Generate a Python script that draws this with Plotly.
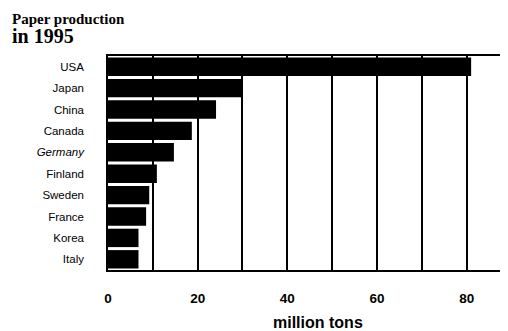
import plotly.graph_objects as go

countries = ["USA", "Japan", "China", "Canada", "<i>Germany</i>", "Finland", "Sweden", "France", "Korea", "Italy"]
production = [81, 30, 24.1, 18.7, 14.7, 10.9, 9.2, 8.5, 6.8, 6.8]
tick_vals = [0, 10, 20, 30, 40, 50, 60, 70, 80]
tick_text = ["0", "", "20", "", "40", "", "60", "", "80"]

fig = go.Figure(go.Bar(
    x=production, y=countries, orientation="h",
    marker=dict(color="black", line=dict(width=0)),
    width=0.86,
))

# page body has an 8px margin, so the figure is sized to fit the 508x331 window
fig.update_layout(
    width=500, height=323,
    margin=dict(l=100, r=1, t=48, b=61),
    paper_bgcolor="white", plot_bgcolor="white",
    showlegend=False,
    font=dict(family="Liberation Sans", color="black"),
    annotations=[
        dict(text="<b>Paper production</b>", xref="paper", yref="paper",
             x=-0.2456, y=1.171, xanchor="left", yanchor="middle", align="left",
             showarrow=False,
             font=dict(family="Liberation Serif", size=15, color="black")),
        dict(text="<b>in 1995</b>", xref="paper", yref="paper",
             x=-0.2456, y=1.093, xanchor="left", yanchor="middle", align="left",
             showarrow=False,
             font=dict(family="Liberation Serif", size=20, color="black")),
        dict(text="<b>million tons</b>", xref="paper", yref="paper",
             x=0.526, y=-0.243, xanchor="center", yanchor="middle", showarrow=False,
             font=dict(family="Liberation Sans", size=16, color="black")),
    ],
)

fig.update_xaxes(
    range=[0, 89], tickvals=tick_vals, ticktext=tick_text,
    showgrid=True, gridcolor="black", gridwidth=1.5,
    showline=True, linecolor="black", linewidth=1.5, mirror=True,
    zeroline=False, ticks="", ticklabelstandoff=15,
    tickfont=dict(family="Liberation Sans", size=13.5, color="black", weight="bold"),
)
fig.update_yaxes(
    autorange="reversed", showgrid=False,
    showline=True, linecolor="black", linewidth=1.5,
    ticks="", ticklabelstandoff=20,
    tickfont=dict(family="Liberation Sans", size=11.5, color="black"),
)

fig.write_html("out.html")
